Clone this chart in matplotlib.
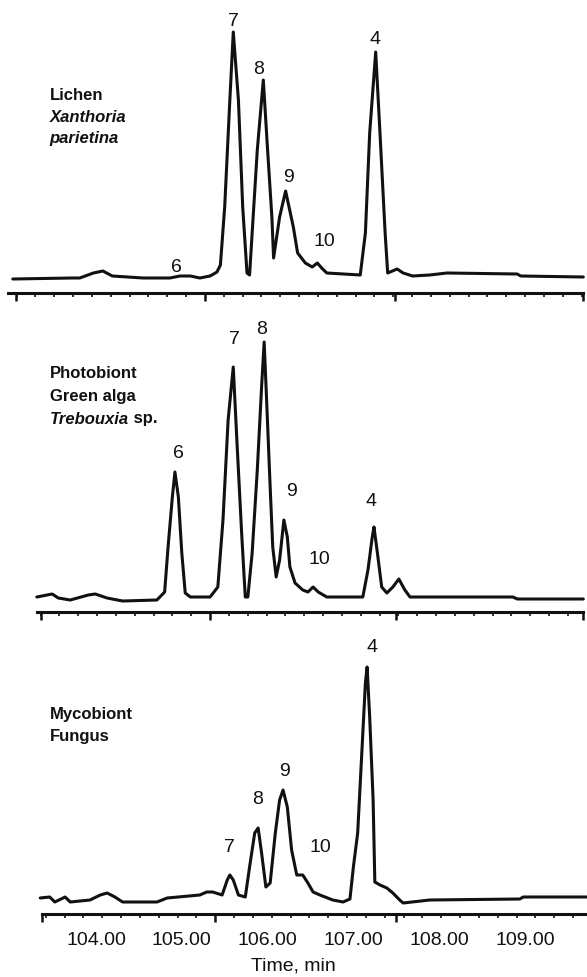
import numpy as np
import matplotlib
matplotlib.use('Agg')
import matplotlib.pyplot as plt

plt.rcParams['font.family'] = ['Liberation Sans', 'DejaVu Sans']

# chromatogram traces (time in min, signal in arbitrary units)
top_time = [103.03, 103.72, 103.81, 103.97, 104.08, 104.19, 104.55, 104.86, 104.98, 105.10,
            105.21, 105.33, 105.41, 105.45, 105.50, 105.56, 105.60, 105.66, 105.71, 105.76,
            105.79, 105.82, 105.88, 105.95, 106.00, 106.05, 106.07, 106.14, 106.21, 106.30,
            106.35, 106.44, 106.52, 106.58, 106.63, 106.69, 107.08, 107.14, 107.19, 107.26,
            107.31, 107.37, 107.40, 107.51, 107.58, 107.69, 107.89, 108.09, 108.91, 108.95,
            109.68]
top_signal = [14, 15, 15, 20, 22, 17, 15, 15, 17, 17,
              15, 17, 21, 28, 86, 193, 261, 193, 86, 20,
              18, 60, 143, 213, 143, 76, 35, 76, 102, 66,
              40, 30, 26, 30, 25, 20, 18, 60, 160, 241,
              160, 60, 20, 24, 20, 17, 18, 20, 19, 17,
              16]

mid_time = [103.31, 103.49, 103.56, 103.70, 103.91, 103.99, 104.13, 104.31, 104.71, 104.80,
            104.84, 104.89, 104.92, 104.96, 105.00, 105.04, 105.10, 105.33, 105.42, 105.48,
            105.54, 105.60, 105.64, 105.70, 105.74, 105.77, 105.82, 105.88, 105.93, 105.96,
            105.99, 106.03, 106.06, 106.10, 106.14, 106.19, 106.23, 106.26, 106.32, 106.41,
            106.47, 106.53, 106.59, 106.69, 107.11, 107.17, 107.22, 107.24, 107.28, 107.33,
            107.39, 107.46, 107.53, 107.60, 107.66, 108.86, 108.91, 109.68]
mid_signal = [15, 18, 14, 12, 17, 18, 14, 11, 12, 20,
              65, 115, 140, 115, 59, 19, 15, 15, 25, 92,
              192, 245, 175, 75, 15, 15, 59, 142, 225, 270,
              209, 125, 65, 35, 52, 92, 75, 45, 29, 22,
              20, 25, 20, 15, 15, 42, 75, 85, 59, 25,
              19, 25, 33, 22, 15, 15, 13, 13]

bot_time = [103.35, 103.46, 103.52, 103.64, 103.70, 103.93, 104.05, 104.13, 104.22, 104.31,
            104.71, 104.83, 105.21, 105.29, 105.36, 105.47, 105.53, 105.56, 105.60, 105.66,
            105.74, 105.79, 105.85, 105.89, 105.93, 105.98, 106.03, 106.09, 106.14, 106.18,
            106.23, 106.28, 106.34, 106.41, 106.47, 106.53, 106.61, 106.76, 106.88, 106.96,
            107.00, 107.05, 107.10, 107.14, 107.16, 107.19, 107.23, 107.25, 107.31, 107.39,
            107.46, 107.54, 107.58, 107.89, 108.94, 108.98, 109.72]
bot_signal = [16, 17, 12, 17, 12, 14, 19, 21, 17, 12,
              12, 16, 19, 22, 22, 19, 34, 39, 34, 19,
              17, 47, 81, 86, 61, 27, 31, 81, 114, 124,
              107, 64, 39, 39, 31, 22, 19, 14, 12, 15,
              47, 81, 164, 231, 247, 197, 114, 32, 29, 26,
              21, 14, 11, 14, 15, 17, 17]

# peak numbers: (label, time, height)
top_peaks = [('6', 104.94, 25), ('7', 105.60, 271), ('8', 105.90, 223), ('9', 106.24, 116),
             ('10', 106.66, 51), ('4', 107.25, 253)]
mid_peaks = [('6', 104.96, 159), ('7', 105.61, 272), ('8', 105.93, 282), ('9', 106.28, 120),
             ('10', 106.60, 53), ('4', 107.21, 111)]
bot_peaks = [('7', 105.56, 67), ('8', 105.88, 115), ('9', 106.20, 142), ('10', 106.62, 67),
             ('4', 107.22, 267)]

tick_years = [104, 105, 106, 107, 108, 109]
tick_text = ['104.00', '105.00', '106.00', '107.00', '108.00', '109.00']

W, H = 587, 977
fig = plt.figure(figsize=(W / 100, H / 100), dpi=100)

xlim = (102.881, 109.723)
ink = '#111111'


def make_panel(top_px, bottom_px, t, s, peaks, spine, majors, title_lines):
    ax = fig.add_axes([0, (H - bottom_px) / H, 1, (bottom_px - top_px) / H])
    ax.plot(t, s, color=ink, lw=2.2, solid_joinstyle='round', solid_capstyle='round')
    ax.set_xlim(*xlim)
    ax.set_ylim(0, bottom_px - top_px)
    for side in ['top', 'left', 'right']:
        ax.spines[side].set_visible(False)
    ax.spines['bottom'].set_bounds(*spine)
    ax.spines['bottom'].set_linewidth(2.2)
    ax.spines['bottom'].set_color(ink)
    ax.set_yticks([])
    minors = majors[1] + 0.2195 * np.arange(-12, 25)
    minors = [m for m in minors if spine[0] <= m <= spine[1]]
    ax.set_xticks(majors)
    ax.set_xticks(minors, minor=True)
    ax.tick_params(axis='x', which='major', length=6, width=1.8, color=ink, labelbottom=False)
    ax.tick_params(axis='x', which='minor', length=3, width=1.2, color=ink)
    for lab, pt, ph in peaks:
        ax.text(pt, ph, lab, ha='center', va='center', fontsize=14, color=ink)
    for txt, y, style in title_lines:
        obj = ax.text(103.46, y, txt, ha='left', va='center', fontsize=12, fontweight='bold',
                      style=style, color=ink)
        if txt == 'Trebouxia':
            ax.annotate(' sp.', xy=(1, 0), xycoords=obj, ha='left', va='bottom',
                        fontsize=12, fontweight='bold', color=ink)
    ax.patch.set_alpha(0)
    return ax


make_panel(0, 293, top_time, top_signal, top_peaks, (102.974, 109.676),
           [103.07, 105.27, 107.48, 109.68],
           [('Lichen', 197, 'normal'), ('Xanthoria', 176, 'italic'), ('parietina', 155, 'italic')])
make_panel(320, 612, mid_time, mid_signal, mid_peaks, (103.31, 109.68),
           [103.36, 105.33, 107.50, 109.68],
           [('Photobiont', 239, 'normal'), ('Green alga', 216, 'normal'), ('Trebouxia', 193, 'italic')])
ax3 = make_panel(622, 914, bot_time, bot_signal, bot_peaks, (103.37, 109.723),
                 [103.37, 105.39, 107.50],
                 [('Mycobiont', 200, 'normal'), ('Fungus', 178, 'normal')])

sec = ax3.secondary_xaxis('bottom')
sec.set_xticks(tick_years, tick_text)
sec.xaxis.set_minor_locator(matplotlib.ticker.NullLocator())
sec.tick_params(length=0, pad=13, labelsize=14, labelcolor=ink)
sec.spines['bottom'].set_visible(False)
sec.set_xlabel('Time, min', fontsize=14, color=ink, labelpad=6)

fig.savefig('out.png', dpi=100, facecolor='white')
